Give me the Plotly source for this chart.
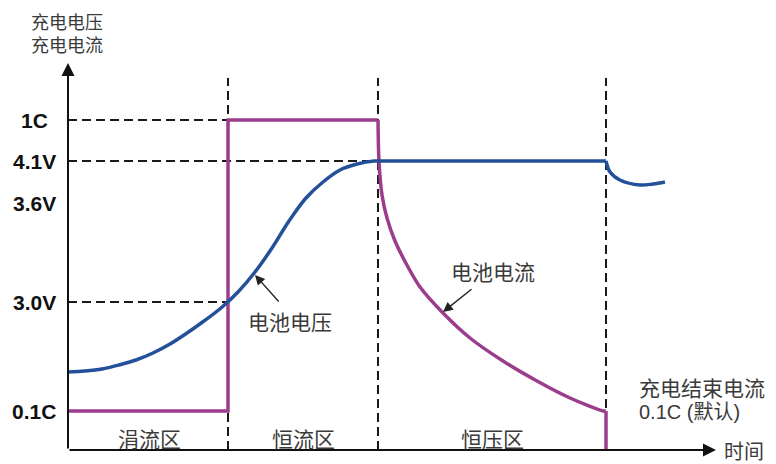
import plotly.graph_objects as go

# ---- phase boundaries (time, arbitrary units) ----
t_trickle_end = 16.0
t_cc_end = 31.0
t_cv_end = 53.8
t_axis_end = 64.8
y_axis_end = 38.7
dash_top = 37.2

# ---- levels (arbitrary units) ----
level_names = ["1C", "4.1V", "3.6V", "3.0V", "0.1C"]
level_values = [33.0, 28.9, 24.7, 14.8, 3.9]
lvl_1c, lvl_41, lvl_36, lvl_30, lvl_01c = level_values

# ---- battery voltage curve ----
v_rise_t = [0, 1.7, 3.4, 5.1, 6.8, 8.5, 10.2, 11.9, 13.6, 15.3, 17.0, 18.7, 20.4, 22.1, 23.8, 25.5, 27.2, 28.9, 30.6, 31.0]
v_rise_y = [7.8, 7.9, 8.1, 8.5, 9.0, 9.7, 10.6, 11.7, 12.9, 14.2, 15.8, 17.8, 20.2, 22.9, 25.2, 26.8, 28.0, 28.6, 28.9, 28.9]
v_flat_t = [31.0, 53.8]
v_flat_y = [28.9, 28.9]
v_relax_t = [53.8, 54.2, 55.2, 57.2, 58.5, 59.7]
v_relax_y = [28.9, 27.8, 27.0, 26.5, 26.6, 26.8]

# ---- battery current curve ----
i_step_t = [0, 16.0, 16.0, 31.0]
i_step_y = [3.9, 3.9, 33.0, 33.0]
i_decay_t = [31.0, 31.1, 31.4, 31.9, 32.7, 34.0, 35.2, 37.5, 40.2, 43.5, 46.9, 50.2, 53.5, 53.8]
i_decay_y = [33.0, 28.8, 25.5, 23.2, 20.9, 18.3, 16.3, 13.7, 11.2, 8.9, 6.9, 5.2, 3.9, 3.9]
i_end_t = [53.8, 53.8]
i_end_y = [3.9, 0]

BLUE = "#24509A"
PURPLE = "#9B3D8C"
DASH = "#1a1a1a"
TXT = "#3a3a3a"
CJK = "Noto Sans CJK SC"

fig = go.Figure()

# dashed guide lines
dash_style = dict(color=DASH, width=2, dash="9px,5px")
fig.add_trace(go.Scatter(x=[0, t_trickle_end], y=[lvl_1c, lvl_1c], mode="lines", line=dash_style, hoverinfo="skip"))
fig.add_trace(go.Scatter(x=[0, t_cc_end], y=[lvl_41, lvl_41], mode="lines", line=dash_style, hoverinfo="skip"))
fig.add_trace(go.Scatter(x=[0, t_trickle_end], y=[lvl_30, lvl_30], mode="lines", line=dash_style, hoverinfo="skip"))
for tx in [t_trickle_end, t_cc_end, t_cv_end]:
    fig.add_trace(go.Scatter(x=[tx, tx], y=[0, dash_top], mode="lines", line=dash_style, hoverinfo="skip"))

# current
cur_line = dict(color=PURPLE, width=3.5)
fig.add_trace(go.Scatter(x=i_step_t, y=i_step_y, mode="lines", line=cur_line))
fig.add_trace(go.Scatter(x=i_decay_t, y=i_decay_y, mode="lines",
                         line=dict(color=PURPLE, width=3.5, shape="spline", smoothing=0.8)))
fig.add_trace(go.Scatter(x=i_end_t, y=i_end_y, mode="lines", line=cur_line))

# voltage
fig.add_trace(go.Scatter(x=v_rise_t, y=v_rise_y, mode="lines",
                         line=dict(color=BLUE, width=3.5, shape="spline", smoothing=1.0)))
fig.add_trace(go.Scatter(x=v_flat_t, y=v_flat_y, mode="lines", line=dict(color=BLUE, width=3.5)))
fig.add_trace(go.Scatter(x=v_relax_t, y=v_relax_y, mode="lines",
                         line=dict(color=BLUE, width=3.5, shape="spline", smoothing=1.0)))

ann = []
# axes with arrows
ann.append(dict(x=0, y=y_axis_end, ax=0, ay=0, xref="x", yref="y", axref="x", ayref="y",
                showarrow=True, arrowhead=2, arrowwidth=2, arrowsize=1.3, arrowcolor="#111", text=""))
ann.append(dict(x=t_axis_end, y=0, ax=0, ay=0, xref="x", yref="y", axref="x", ayref="y",
                showarrow=True, arrowhead=2, arrowwidth=2, arrowsize=1.3, arrowcolor="#111", text=""))

# level labels
for name, val in zip(level_names, level_values):
    ann.append(dict(x=-3.4, y=val, xref="x", yref="y", text="<b>" + name + "</b>", showarrow=False,
                    xanchor="center", yanchor="middle",
                    font=dict(family="Liberation Sans, Arial", size=21, color="#111")))

# axis titles
ann.append(dict(x=-0.15, y=41.75, text="充电电压<br>充电电流", showarrow=False, xanchor="center", yanchor="middle",
                align="center", font=dict(family=CJK, size=18, color=TXT)))
ann.append(dict(x=65.4, y=0.0, text="时间", showarrow=False, xanchor="left", yanchor="middle",
                font=dict(family=CJK, size=20, color=TXT)))

# zone labels
for lbl, xc in [("涓流区", 8.1), ("恒流区", 23.5), ("恒压区", 42.4)]:
    ann.append(dict(x=xc, y=1.2, text=lbl, showarrow=False, xanchor="center", yanchor="middle",
                    font=dict(family=CJK, size=21, color=TXT)))

# curve labels and pointers
ann.append(dict(x=22.2, y=12.9, text="电池电压", showarrow=False, xanchor="center", yanchor="middle",
                font=dict(family=CJK, size=21, color=TXT)))
ann.append(dict(x=18.7, y=17.5, ax=21.2, ay=14.7, xref="x", yref="y", axref="x", ayref="y", text="",
                showarrow=True, arrowhead=2, arrowwidth=1.4, arrowsize=1.4, arrowcolor="#222"))
ann.append(dict(x=42.5, y=17.9, text="电池电流", showarrow=False, xanchor="center", yanchor="middle",
                font=dict(family=CJK, size=21, color=TXT)))
ann.append(dict(x=37.5, y=13.8, ax=40.5, ay=16.2, xref="x", yref="y", axref="x", ayref="y", text="",
                showarrow=True, arrowhead=2, arrowwidth=1.4, arrowsize=1.4, arrowcolor="#222"))

# end-of-charge note
ann.append(dict(x=56.9, y=6.3, text="充电结束电流", showarrow=False, xanchor="left", yanchor="middle",
                font=dict(family=CJK, size=21, color=TXT)))
ann.append(dict(x=56.9, y=3.8, text="0.1C (默认)", showarrow=False, xanchor="left", yanchor="middle",
                font=dict(family="Liberation Sans, " + CJK, size=20, color=TXT)))

fig.update_layout(
    width=776, height=464,
    margin=dict(l=0, r=0, t=0, b=0),
    paper_bgcolor="white", plot_bgcolor="white",
    showlegend=False,
    xaxis=dict(range=[-6.0, 71.6], visible=False, fixedrange=True),
    yaxis=dict(range=[-2.2, 44.2], visible=False, fixedrange=True),
    annotations=ann,
)

fig.write_html("out.html")
